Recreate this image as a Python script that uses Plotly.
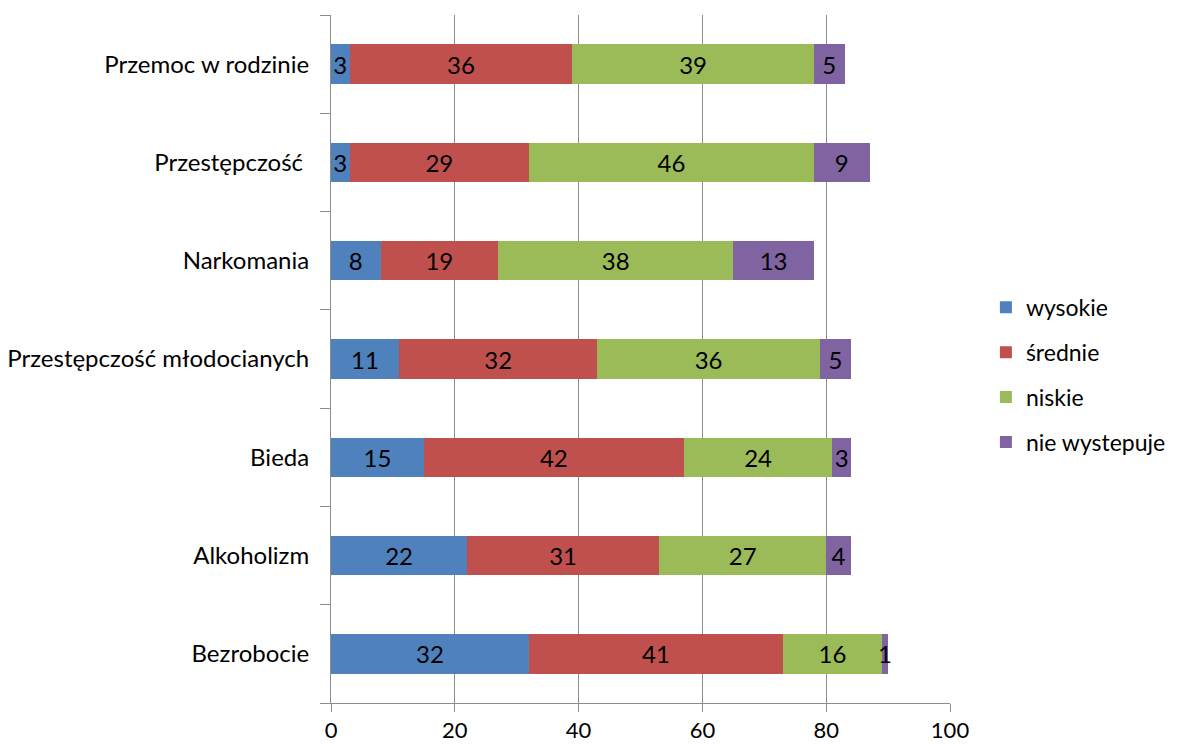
import plotly.graph_objects as go

categories = ["Bezrobocie", "Alkoholizm", "Bieda", "Przestępczość młodocianych",
              "Narkomania", "Przestępczość ", "Przemoc w rodzinie"]
series_names = ["wysokie", "średnie", "niskie", "nie wystepuje"]
wysokie = [32, 22, 15, 11, 8, 3, 3]
srednie = [41, 31, 42, 32, 19, 29, 36]
niskie = [16, 27, 24, 36, 38, 46, 39]
nie_wystepuje = [1, 4, 3, 5, 13, 9, 5]
x_ticks = [0, 20, 40, 60, 80, 100]

colors = ["#4F81BD", "#C0504D", "#9BBB59", "#8064A2"]
FONT = "Lato, Calibri, sans-serif"
FS = 24

fig = go.Figure()
for i, (name, vals) in enumerate(zip(series_names, [wysokie, srednie, niskie, nie_wystepuje])):
    fig.add_trace(go.Bar(
        y=categories, x=vals, name=name, orientation="h",
        marker=dict(color=colors[i], line=dict(width=0)),
        text=[str(v) for v in vals], textposition="inside",
        insidetextanchor="middle",
        textfont=dict(color="black", size=FS, family=FONT),
        legendgroup=name,
    ))

fig.update_layout(
    barmode="stack", bargap=0.6,
    width=1179, height=744,
    margin=dict(l=323, r=237, t=7, b=49, autoexpand=False),
    paper_bgcolor="white", plot_bgcolor="white",
    font=dict(family=FONT, size=FS, color="black"),
    uniformtext=dict(minsize=FS, mode="show"),
    showlegend=True,
    legend=dict(x=1.058, y=0.477, xanchor="left", yanchor="middle",
                traceorder="grouped", tracegroupgap=12,
                font=dict(size=23, family=FONT)),
)
fig.update_xaxes(range=[0, 100], tickvals=x_ticks, showgrid=True, gridcolor="#8c8c8c",
                 gridwidth=1, showline=True, linecolor="#8c8c8c", ticks="outside",
                 ticklen=8, tickcolor="#8c8c8c", zeroline=False, automargin=False,
                 ticklabelstandoff=0, tickfont=dict(size=22, family=FONT))
fig.update_yaxes(showline=True, linecolor="#8c8c8c", ticks="outside", tickson="boundaries",
                 ticklen=10, tickcolor="#8c8c8c", showgrid=False, automargin=False,
                 ticklabelstandoff=16, tickfont=dict(size=FS, family=FONT))

fig.write_html("out.html")
